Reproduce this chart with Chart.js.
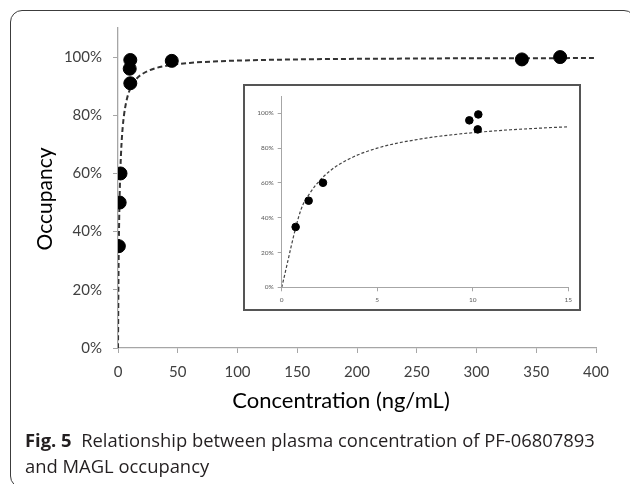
<!DOCTYPE html>
<html><head><meta charset="utf-8">
<script src="https://cdn.jsdelivr.net/npm/chart.js@4"></script>
<style>
html,body{margin:0;padding:0;background:#fff;}
#wrap{position:relative;width:630px;height:484px;overflow:hidden;background:#fff;}
#frame{position:absolute;left:10px;top:10px;width:626px;height:478px;border:1.3px solid #3c3c3c;border-radius:12px;box-sizing:border-box;}
#main{position:absolute;left:0;top:0;}
#inset{position:absolute;left:243px;top:84px;width:338px;height:227px;border:2px solid #555;box-sizing:border-box;background:#fff;}
#insetc{position:absolute;left:0;top:0;}
#cap{position:absolute;left:25px;top:427px;font-family:"Open Sans";font-size:18.4px;line-height:25.5px;color:#231f20;white-space:nowrap;}
#cap b{font-weight:700;}
</style></head>
<body>
<div id="wrap">
  <div id="frame"></div>
  <canvas id="main" width="630" height="440"></canvas>
  <div id="inset"><canvas id="insetc" width="334" height="223"></canvas></div>
  <div id="cap"><b>Fig. 5</b>&nbsp; Relationship between plasma concentration of PF-06807893<br>and MAGL occupancy</div>
</div>
<script>
// Observed data (concentration ng/mL, occupancy %)
const pointsX = [0.7, 1.4, 2.1, 9.8, 10.3, 10.3, 45, 338, 370];
const pointsY = [35, 50, 60, 96, 99, 91, 98.7, 99.2, 100];
// Fitted curve
const curveX = [0, 0.5, 1, 1.5, 2, 3, 4, 5, 7, 10, 15, 20, 30, 45, 60, 80, 100, 150, 200, 250, 300, 350, 400];
const curveY = [0, 28.6, 44.4, 54.5, 61.5, 70.6, 76.2, 80, 84.8, 88.9, 92.3, 94.1, 96, 97.3, 98, 98.5, 98.8, 99.2, 99.4, 99.5, 99.6, 99.6, 99.7];
// Inset (0-15 ng/mL)
const insetPointsX = [0.73, 1.41, 2.16, 9.82, 10.29, 10.26];
const insetPointsY = [34.7, 49.8, 60.1, 96, 99.4, 90.8];
const insetCurveX = [0, 1, 1.5, 2, 2.5, 3, 4, 5, 6, 7, 8, 9, 10, 11, 12, 13, 14, 15];
const insetCurveY = [0, 44.4, 54.5, 61.5, 66.7, 70.6, 76.2, 80, 82.8, 84.8, 86.5, 87.8, 88.9, 89.8, 90.6, 91.2, 91.8, 92.3];
// Tick labels
const mainXTicks = [0, 50, 100, 150, 200, 250, 300, 350, 400];
const mainYTicks = [0, 20, 40, 60, 80, 100];
const insetXTicks = [0, 5, 10, 15];
const insetYTicks = [0, 20, 40, 60, 80, 100];
const xTitle = 'Concentration (ng/mL)';
const yTitle = 'Occupancy';

const pairs = (xs, ys) => xs.map((x, i) => ({x: x, y: ys[i]}));

const titlesPlugin = {
  id: 'axisTitles',
  afterDraw(chart) {
    const c = chart.ctx;
    c.save();
    c.fillStyle = '#000';
    c.textAlign = 'center';
    c.textBaseline = 'middle';
    c.font = '22px Lato';
    c.fillText(xTitle, 341, 401);
    c.translate(45, 199);
    c.rotate(-Math.PI / 2);
    c.font = '21px Lato';
    c.fillText(yTitle, 0, 0);
    c.restore();
  }
};

new Chart(document.getElementById('main'), {
  type: 'scatter',
  data: {
    datasets: [
      {data: pairs(pointsX, pointsY), backgroundColor: '#000', borderColor: '#000', pointRadius: 6.5, pointHoverRadius: 6.5},
      {data: pairs(curveX, curveY), showLine: true, pointRadius: 0, borderColor: '#333', borderWidth: 2, borderDash: [5, 3], cubicInterpolationMode: 'monotone', fill: false}
    ]
  },
  options: {
    responsive: false, animation: false, devicePixelRatio: 1,
    layout: {padding: {left: 0, right: 34, top: 28, bottom: 0}},
    plugins: {legend: {display: false}, tooltip: {enabled: false}},
    scales: {
      x: {
        type: 'linear', min: 0, max: 400,
        afterBuildTicks: s => { s.ticks = mainXTicks.map(v => ({value: v})); },
        afterFit: s => { s.height = 92; },
        grid: {drawOnChartArea: false, drawTicks: true, tickLength: 5, color: '#a6a6a6'},
        border: {color: '#a6a6a6', width: 1.3},
        ticks: {font: {family: 'Lato', size: 15}, color: '#404040', padding: 10, maxRotation: 0}
      },
      y: {
        type: 'linear', min: 0, max: 110,
        afterBuildTicks: s => { s.ticks = mainYTicks.map(v => ({value: v})); },
        afterFit: s => { s.width = 118; },
        grid: {drawOnChartArea: false, drawTicks: true, tickLength: 5, color: '#a6a6a6'},
        border: {color: '#a6a6a6', width: 1.3},
        ticks: {font: {family: 'Lato', size: 15}, color: '#404040', padding: 11, callback: v => v + '%'}
      }
    }
  },
  plugins: [titlesPlugin]
});

new Chart(document.getElementById('insetc'), {
  type: 'scatter',
  data: {
    datasets: [
      {data: pairs(insetPointsX, insetPointsY), backgroundColor: '#000', borderColor: '#000', pointRadius: 3.8, pointHoverRadius: 3.8},
      {data: pairs(insetCurveX, insetCurveY), showLine: true, pointRadius: 0, borderColor: '#444', borderWidth: 1.2, borderDash: [3, 2], cubicInterpolationMode: 'monotone', fill: false}
    ]
  },
  options: {
    responsive: false, animation: false, devicePixelRatio: 1,
    layout: {padding: {left: 0, right: 10.7, top: 10, bottom: 0}},
    plugins: {legend: {display: false}, tooltip: {enabled: false}},
    scales: {
      x: {
        type: 'linear', min: 0, max: 15,
        afterBuildTicks: s => { s.ticks = insetXTicks.map(v => ({value: v})); },
        afterFit: s => { s.height = 21.7; },
        grid: {drawOnChartArea: false, drawTicks: true, tickLength: 4, color: '#a6a6a6'},
        border: {color: '#a6a6a6', width: 1},
        ticks: {font: {family: 'Lato', size: 6.5}, color: '#595959', padding: 5, maxRotation: 0}
      },
      y: {
        type: 'linear', min: 0, max: 110,
        afterBuildTicks: s => { s.ticks = insetYTicks.map(v => ({value: v})); },
        afterFit: s => { s.width = 36.7; },
        grid: {drawOnChartArea: false, drawTicks: true, tickLength: 4, color: '#a6a6a6'},
        border: {color: '#a6a6a6', width: 1},
        ticks: {font: {family: 'Lato', size: 6.5}, color: '#595959', padding: 4, callback: v => v + '%'}
      }
    }
  }
});
</script>
</body></html>
